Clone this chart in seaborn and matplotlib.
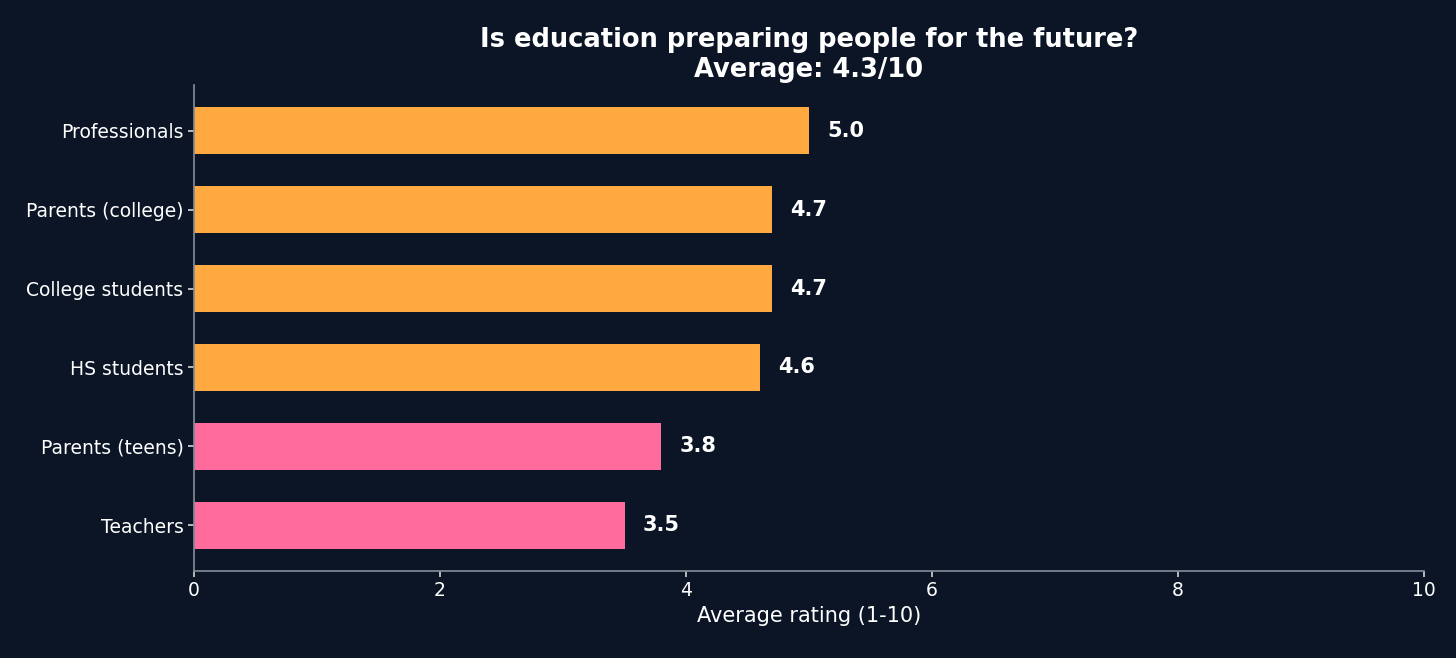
import matplotlib
matplotlib.use("Agg")
import matplotlib.pyplot as plt
import seaborn as sns
import pandas as pd

groups = ["Professionals", "Parents (college)", "College students", "HS students", "Parents (teens)", "Teachers"]
ratings = [5.0, 4.7, 4.7, 4.6, 3.8, 3.5]
bar_colors = ["#FFA940", "#FFA940", "#FFA940", "#FFA940", "#FF6B9D", "#FF6B9D"]

bg = "#0b1526"
sns.set_theme(style="white")
plt.rcParams["font.family"] = ["DejaVu Sans"]

df = pd.DataFrame({"group": groups, "rating": ratings})

fig = plt.figure(figsize=(14.56, 6.58), dpi=100, facecolor=bg)
ax = fig.add_axes([194 / 1456, 1 - 571 / 658, (1424 - 194) / 1456, (571 - 85) / 658])
ax.set_facecolor(bg)
sns.barplot(data=df, x="rating", y="group", hue="group", palette=bar_colors,
            legend=False, width=0.6, ax=ax, saturation=1, linewidth=0)

for i, v in enumerate(ratings):
    ax.text(v + 0.15, i, f"{v:.1f}", va="center", ha="left", color="white",
            fontsize=15, fontweight="bold")

ax.set_xlim(0, 10)
ax.set_ylim(5.58, -0.58)
ax.set_xlabel("Average rating (1-10)", color="white", fontsize=15)
ax.set_ylabel("")
ax.set_title("Is education preparing people for the future?\nAverage: 4.3/10",
             color="white", fontsize=18.5, fontweight="bold", pad=6)
ax.tick_params(colors="white", labelsize=13.5, length=4, left=True, bottom=True)
for s in ["top", "right"]:
    ax.spines[s].set_visible(False)
for s in ["left", "bottom"]:
    ax.spines[s].set_color("#7f8a99")
ax.tick_params(axis="both", color="#cccccc")

fig.savefig("out.png", dpi=100, facecolor=bg)
